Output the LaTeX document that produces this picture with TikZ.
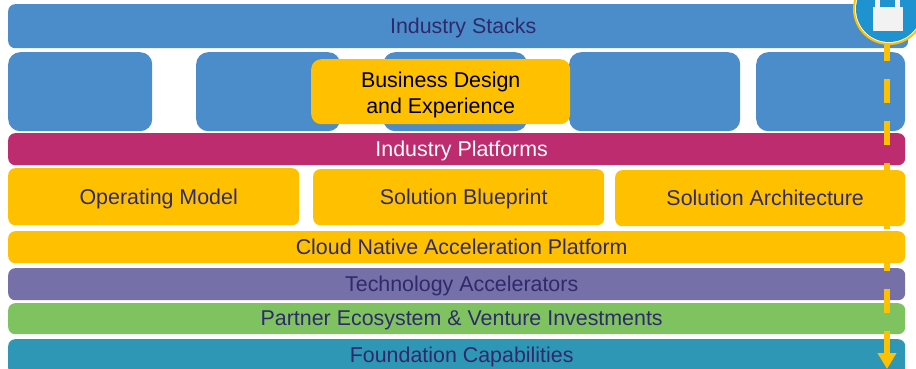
\documentclass[tikz,border=0pt]{standalone}
\usepackage{fontspec}
\setmainfont{Liberation Sans}
\usepackage{tikz}
\usetikzlibrary{positioning,arrows.meta}
\definecolor{stackblue}{HTML}{4B8CCA}
\definecolor{gold}{HTML}{FFC000}
\definecolor{plum}{HTML}{BC2C6E}
\definecolor{violet}{HTML}{7570A8}
\definecolor{leaf}{HTML}{7FC360}
\definecolor{teal}{HTML}{2E97B5}
\definecolor{ink}{HTML}{2F2A6B}
\definecolor{badge}{HTML}{1F93CF}
\newcommand{\offtext}[1]{\hspace*{10pt}#1}
\tikzset{
  block/.style={rounded corners=7, inner sep=0, align=center, text=ink, text height=15, text depth=0,
    font=\fontsize{21.4}{26}\selectfont, anchor=north west},
  bar/.style={block, minimum width=897, minimum height=32},
  tile/.style={block, fill=stackblue, minimum height=79, rounded corners=12}
}
\begin{document}
\begin{tikzpicture}[x=1pt,y=-1pt]
\clip (0,0) rectangle (916,369);
\node[block, fill=stackblue, minimum width=900, minimum height=44] (stacks) at (8,4) {\offtext{Industry Stacks}};
\node[tile, minimum width=144] (tilea) at (8,52) {};
\node[tile, minimum width=144] (tileb) at (196,52) {};
\node[tile, minimum width=144] (tilec) at (383,52) {};
\node[tile, minimum width=171] (tiled) at (569,52) {};
\node[tile, minimum width=149] (tilee) at (756,52) {};
\node[block, fill=gold, text=black, text height=44, minimum width=259, minimum height=65, rounded corners=10] (design) at (311,59) {Business Design\\and Experience};
\node[bar, fill=plum, text=white] (platforms) at (8,133) {\offtext{Industry Platforms}};
\node[block, fill=gold, minimum width=291, minimum height=57] (model) at (8,168) {\offtext{Operating Model}};
\node[block, fill=gold, minimum width=291, minimum height=56] (blueprint) at (313,169) {\offtext{Solution Blueprint}};
\node[block, fill=gold, minimum width=290, minimum height=56] (architecture) at (615,170) {\offtext{Solution Architecture}};
\node[bar, fill=gold] (cloud) at (8,231) {\offtext{Cloud Native Acceleration Platform}};
\node[bar, fill=violet] (tech) at (8,268) {\offtext{Technology Accelerators}};
\node[bar, fill=leaf, minimum height=31, text depth=1] (partner) at (8,303) {\offtext{Partner Ecosystem \& Venture Investments}};
\node[bar, fill=teal, minimum height=36, text depth=4] (foundation) at (8,339) {\offtext{Foundation Capabilities}};
% lock badge and timeline
\node[circle, draw=gold, line width=2, fill=white, minimum size=70, inner sep=0] (badgering) at (889,9) {};
\node[circle, fill=badge, minimum size=66, inner sep=0] (lockbadge) at (889,9) {};
\coordinate (timeend) at (887,369);
\draw[gold, line width=6, dash pattern=on 24 off 18, dash phase=8, -{Triangle[width=18,length=16]}] (badgering.south -| timeend) -- (timeend);
\draw[white!95!black, line width=5] (877.5,9) -- (877.5,-2) (897.5,9) -- (897.5,-2);
\node[fill=white!95!black, minimum width=30, minimum height=24, inner sep=0] (lockbody) at (888,19.5) {};
\end{tikzpicture}
\end{document}
